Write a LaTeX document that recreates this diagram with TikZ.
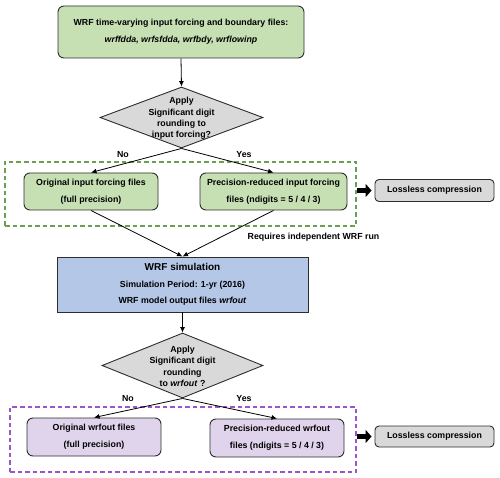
\documentclass[tikz,border=0pt]{standalone}
\usepackage{fontspec}
\setmainfont{Liberation Sans}
\usetikzlibrary{shapes.geometric,arrows.meta}
\definecolor{gfill}{RGB}{198,224,180}
\definecolor{bfill}{RGB}{180,199,231}
\definecolor{pfill}{RGB}{224,212,236}
\definecolor{dgray}{RGB}{217,217,217}
\definecolor{edgec}{RGB}{45,45,45}
\definecolor{gdash}{RGB}{106,160,79}
\definecolor{pdash}{RGB}{153,85,204}
\tikzset{
  txt/.style={font=\fontsize{8.8}{17}\selectfont\bfseries, align=center},
  rbox/.style={draw=edgec, line width=0.9pt, rounded corners=6pt, inner sep=0pt, txt},
  dia/.style={draw=edgec, line width=0.9pt, diamond, fill=dgray, inner sep=0pt},
  diatxt/.style={font=\fontsize{8.8}{11.3}\selectfont\bfseries, align=center, inner sep=0pt},
  grp/.style={dash pattern=on 4.5pt off 3pt, line width=1.1pt, inner sep=0pt},
  conn/.style={line width=0.8pt, -{Latex[length=5.5pt,width=5pt]}},
  blk/.style={line width=5.5pt, -{Triangle[length=6pt,width=13pt]}},
  lbl/.style={font=\fontsize{8.8}{10}\selectfont\bfseries, inner sep=0pt}
}
\begin{document}
\begin{tikzpicture}[x=1pt,y=-1pt]
\useasboundingbox (0,0) rectangle (500,478);
% top box
\node[rbox, fill=gfill, minimum width=246, minimum height=52] (top) at (181,32)
  {WRF time-varying input forcing and boundary files:\\ \textit{wrffdda, wrfsfdda, wrfbdy, wrflowinp}};
% diamond 1
\node[dia, minimum width=163, minimum height=61] (d1) at (181.5,117.5) {};
\node[diatxt] (d1t) at (181.5,118.5) {Apply\\Significant digit\\rounding to\\input forcing?};
% group 1
\node[grp, draw=gdash, minimum width=351, minimum height=64] (g1) at (180.5,194) {};
\node[rbox, fill=gfill, minimum width=134, minimum height=37] (o1) at (91,191.5)
  {Original input forcing files\\(full precision)};
\node[rbox, fill=gfill, minimum width=147, minimum height=37] (p1) at (273.5,191.5)
  {Precision-reduced input forcing\\files (ndigits = 5 / 4 / 3)};
\node[rbox, fill=dgray, minimum width=119, minimum height=22, rounded corners=4pt] (l1) at (434.5,190.5)
  {Lossless compression};
\node[lbl] (no1) at (123,155) {No};
\node[lbl] (yes1) at (244,155) {Yes};
\node[lbl] (req) at (313.5,237) {Requires independent WRF run};
% simulation
\node[draw=edgec, line width=0.9pt, fill=bfill, minimum width=251, minimum height=55, inner sep=0pt,
  font=\fontsize{8.8}{17}\selectfont\bfseries, align=center] (sim) at (182.5,284.5)
  {{\fontsize{10}{12}\selectfont WRF simulation}\\[-0.5pt] Simulation Period: 1-yr (2016)\\[-1pt] WRF model output files \textit{wrfout}};
% diamond 2
\node[dia, minimum width=161, minimum height=65] (d2) at (182.5,365.5) {};
\node[diatxt] (d2t) at (182.5,366.5) {Apply\\Significant digit\\rounding\\to \textit{wrfout} ?};
% group 2
\node[grp, draw=pdash, minimum width=346, minimum height=65] (g2) at (183,439.5) {};
\node[rbox, fill=pfill, minimum width=134, minimum height=38] (o2) at (94,437)
  {Original wrfout files\\(full precision)};
\node[rbox, fill=pfill, minimum width=134, minimum height=38] (p2) at (277,438)
  {Precision-reduced wrfout\\files (ndigits = 5 / 4 / 3)};
\node[rbox, fill=dgray, minimum width=119, minimum height=21, rounded corners=4pt] (l2) at (434.5,436.5)
  {Lossless compression};
\node[lbl] (no2) at (128,399) {No};
\node[lbl] (yes2) at (244,399) {Yes};
% connectors
\draw[conn] (top.south) -- (d1.north);
\draw[conn] (d1.south) -- (o1.north);
\draw[conn] (d1.south) -- (p1.north);
\draw[conn] (o1.south) -- (sim.north);
\draw[conn] (p1.south) -- (sim.north);
\draw[conn] (sim.south) -- (d2.north);
\draw[conn] (d2.south) -- (o2.north);
\draw[conn] (d2.south) -- (p2.north);
\draw[blk, shorten >=3pt] (g1.east |- l1.west) -- (l1.west);
\draw[blk, shorten >=3pt] (g2.east |- l2.west) -- (l2.west);
\end{tikzpicture}
\end{document}
